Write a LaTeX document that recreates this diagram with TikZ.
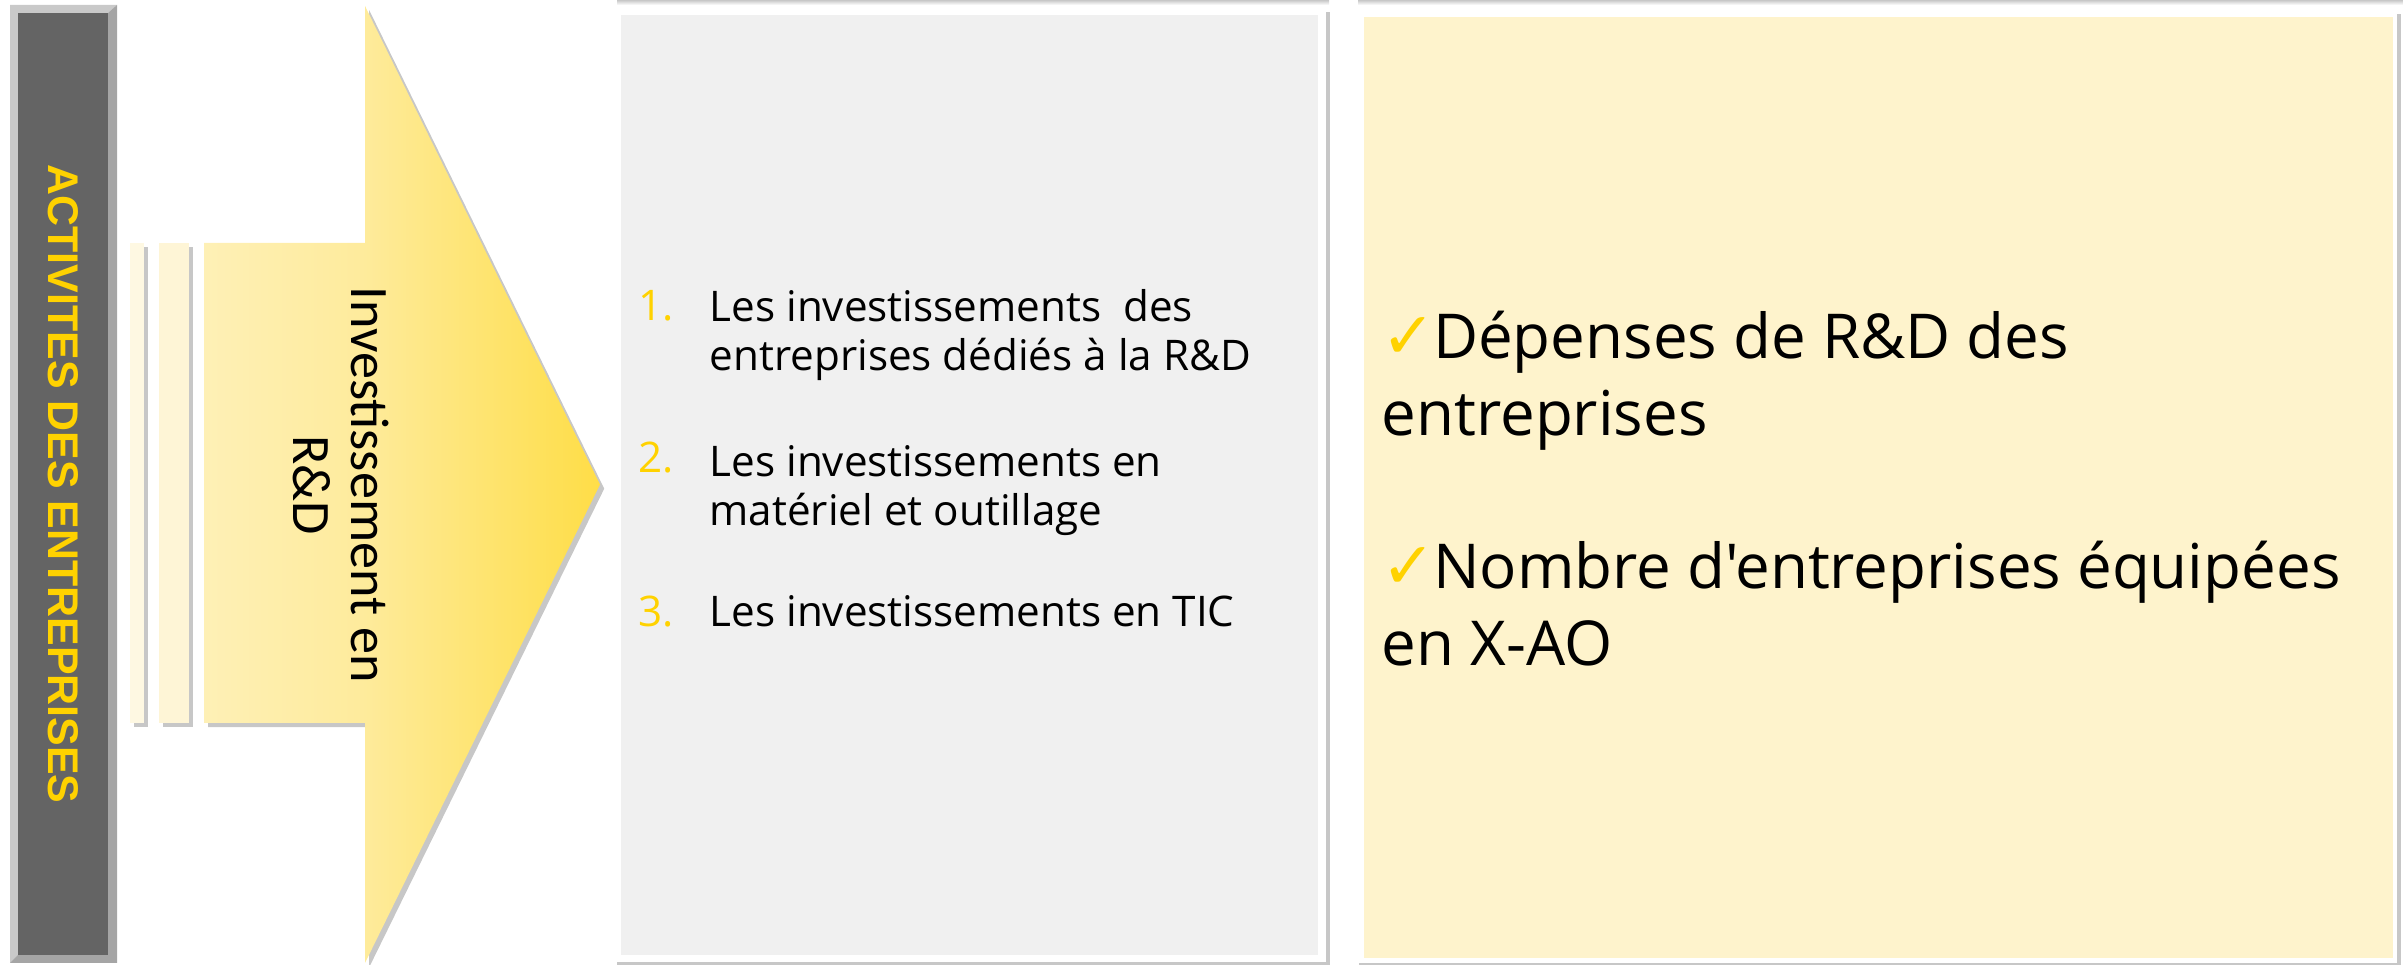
\documentclass[tikz,border=0pt]{standalone}
\usepackage{fontspec}
\newfontfamily\listfont{Open Sans}
\newfontfamily\barfont{Liberation Sans}
\newfontfamily\arrowfont{Carlito}
\newfontfamily\chkfont{DejaVu Sans}
\usetikzlibrary{positioning,shadows}

\definecolor{eyyellow}{HTML}{FFD200}
\definecolor{bargray}{HTML}{646464}
\definecolor{barlight}{HTML}{C9C9C9}
\definecolor{bardark}{HTML}{A5A5A5}
\definecolor{panelgray}{HTML}{F0F0F0}
\definecolor{panelyellow}{HTML}{FEF3CC}
\definecolor{arrowlight}{HTML}{FEF6D6}
\definecolor{arrowmid}{HTML}{FEEB9C}
\definecolor{arrowgold}{HTML}{FFD200}
\definecolor{stripone}{HTML}{FEF8E2}
\definecolor{striptwo}{HTML}{FEF5D6}

\pgfdeclarehorizontalshading{arrowfade}{100bp}{color(0bp)=(arrowlight); color(45bp)=(arrowmid); color(100bp)=(arrowgold)}

\newcommand{\chk}{\makebox[14.6pt][l]{\chkfont\fontsize{18.5}{20}\selectfont\color{eyyellow}\char"2713}}

\tikzset{
  softshadow/.style={drop shadow={shadow xshift=1.2pt, shadow yshift=-1.2pt, fill=black, opacity=.22}},
  bartext/.style={font=\barfont\bfseries\fontsize{12.2}{14}\selectfont, text=eyyellow, inner sep=0pt, rotate=-90},
  arrowtext/.style={font=\arrowfont\fontsize{15.4}{16.5}\selectfont, align=center, inner sep=0pt, rotate=-90},
  listnum/.style={font=\listfont\fontsize{12}{14.2}\selectfont, text=eyyellow, inner sep=0pt, anchor=base west},
  listtext/.style={font=\listfont\fontsize{12}{14.2}\selectfont, align=left, inner sep=0pt, anchor=base west},
  restext/.style={font=\listfont\fontsize{17.6}{21.9}\selectfont, align=left, inner sep=0pt, anchor=base west},
}

\begin{document}
\begin{tikzpicture}[x=0.01cm, y=-0.01cm]
  \useasboundingbox (0,0) rectangle (2403,965);

  % shadows of the shapes above the picture
  \shade[top color=black!22, bottom color=white] (617,0) rectangle (1329,5);
  \shade[top color=black!22, bottom color=white] (1358,0) rectangle (2403,5);

  % left bar
  \fill[barlight] (10,5) -- (117,5) -- (108,13) -- (18,13) -- (18,955) -- (10,963) -- cycle;
  \fill[bardark] (117,5) -- (117,963) -- (10,963) -- (18,955) -- (108,955) -- (108,13) -- cycle;
  \fill[bargray] (18,13) rectangle (108,955);
  \node[bartext] (activites) at (63.5,484) {ACTIVITES DES ENTREPRISES};

  % arrow with its strips
  \fill[stripone, softshadow] (130,243) rectangle (144,723);
  \fill[striptwo, softshadow] (159,243) rectangle (189,723);
  \shade[shading=arrowfade, softshadow]
    (204,243) -- (365,243) -- (365,6) -- (600,484.5) -- (365,963) -- (365,723) -- (204,723) -- cycle;
  \node[arrowtext] (invest) at (341.5,485) {Investissement en\\R\&D};

  % middle panel (base = last line)
  \fill[white, softshadow] (613,8) rectangle (1326,962);
  \fill[panelgray] (621,15) rectangle (1318,955);
  \node[listtext] (item1) at (709,371) {Les investissements\ \ des\\entreprises dédiés à la R\&D};
  \node[listtext] (item2) at (709,526) {Les investissements en\\matériel et outillage};
  \node[listtext] (item3) at (709,627) {Les investissements en TIC};
  \node[listnum] (num1) at (638,321) {1.};
  \node[listnum] (num2) at (638,473) {2.};
  \node[listnum] (num3) at (638,627) {3.};

  % right panel
  \fill[white, softshadow] (1355,10) rectangle (2397,963);
  \fill[panelyellow] (1364,17) rectangle (2393,958);
  \node[restext] (depenses) at (1381,436) {\chk Dépenses de R\&D des\\entreprises};
  \node[restext] (nombre) at (1381,666) {\chk Nombre d'entreprises équipées\\en X-AO};
\end{tikzpicture}
\end{document}
